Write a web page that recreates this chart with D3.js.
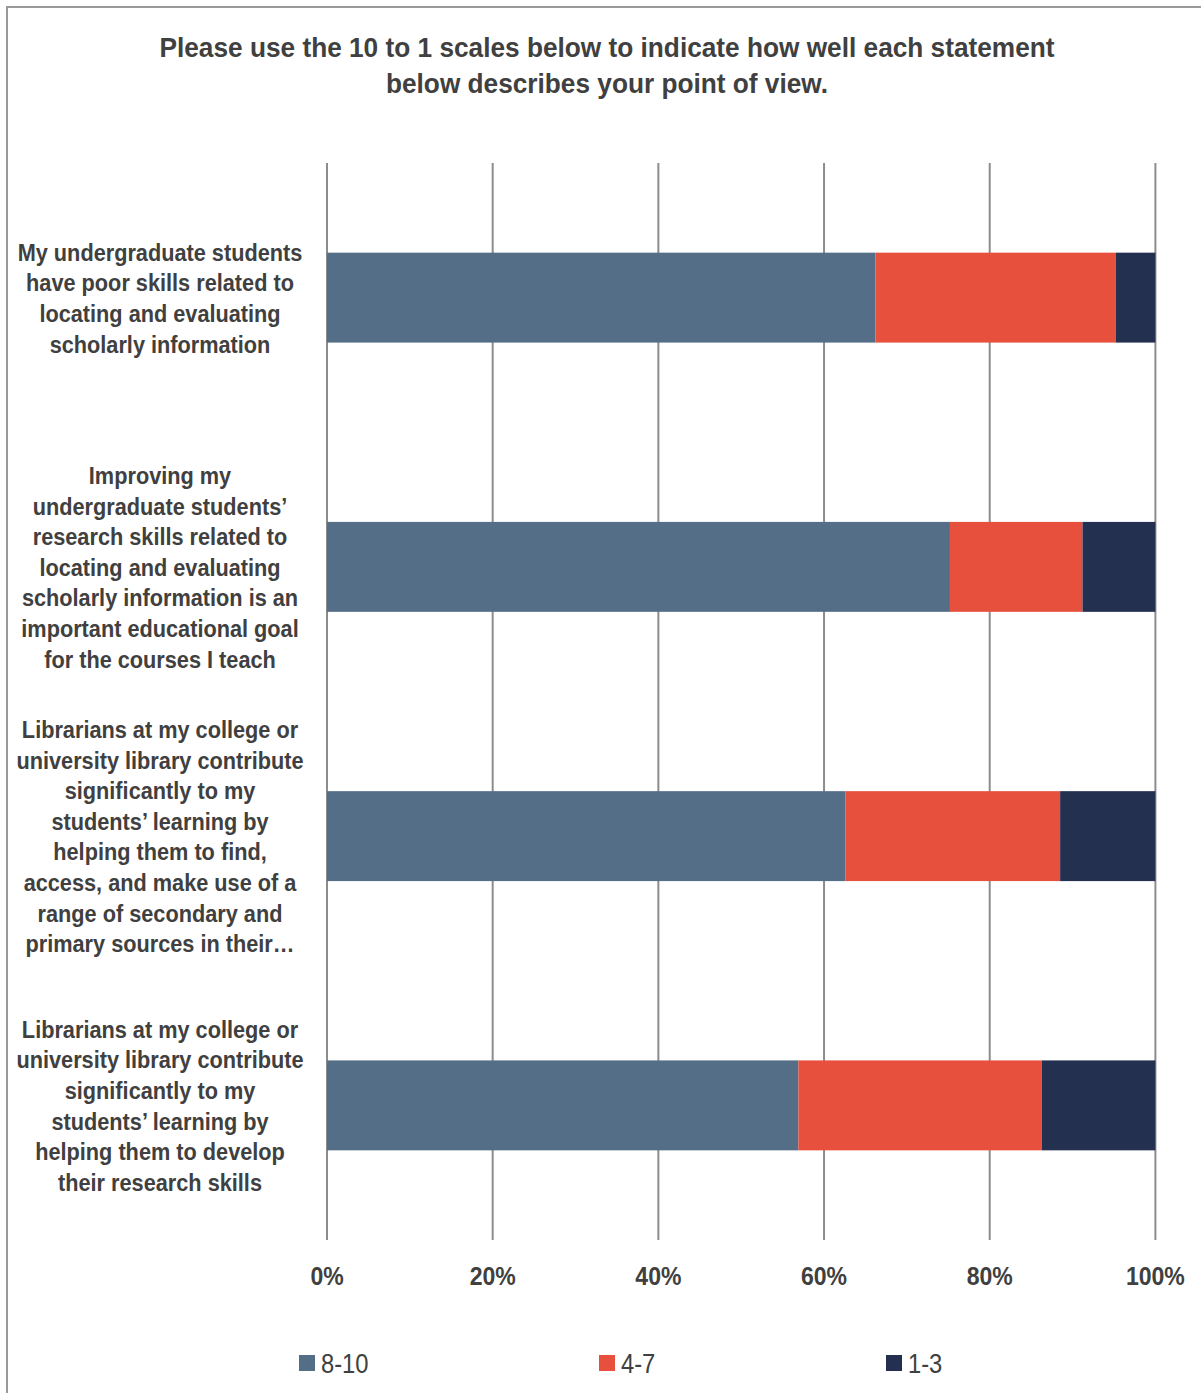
<!DOCTYPE html>
<html>
<head>
<meta charset="utf-8">
<script src="https://cdn.jsdelivr.net/npm/d3@7"></script>
<style>
  html, body { margin: 0; padding: 0; background: #fff; }
  svg { display: block; }
  text { font-family: "Liberation Sans", Arial, sans-serif; fill: #404040; }
</style>
</head>
<body>
<svg id="chart" width="1201" height="1393"></svg>
<script>
// Survey statements (each entry is one wrapped label, one line per string)
const categories = [
  ["My undergraduate students", "have poor skills related to", "locating and evaluating", "scholarly information"],
  ["Improving my", "undergraduate students\u2019", "research skills related to", "locating and evaluating", "scholarly information is an", "important educational goal", "for the courses I teach"],
  ["Librarians at my college or", "university library contribute", "significantly to my", "students\u2019 learning by", "helping them to find,", "access, and make use of a", "range of secondary and", "primary sources in their\u2026"],
  ["Librarians at my college or", "university library contribute", "significantly to my", "students\u2019 learning by", "helping them to develop", "their research skills"]
];

// Share of responses (%) per rating band
const seriesNames = ["8-10", "4-7", "1-3"];
const high = [66.2, 75.2, 62.6, 56.9];
const mid  = [29.0, 16.0, 25.9, 29.4];
const low  = [4.8, 8.8, 11.5, 13.7];

const tickValues = [0, 20, 40, 60, 80, 100];
const tickLabels = ["0%", "20%", "40%", "60%", "80%", "100%"];

const colors = ["#556e88", "#e8503e", "#233050"];

const title = ["Please use the 10 to 1 scales below to indicate how well each statement",
               "below describes your point of view."];

// narrow face: a regular sans squeezed horizontally around its anchor
function narrowText(sel, x, y, k) {
  return sel.attr("transform", `translate(${x},${y}) scale(${k},1)`);
}

const svg = d3.select("#chart");

// outer frame
svg.append("rect")
  .attr("x", 7).attr("y", 7)
  .attr("width", 1260).attr("height", 1460)
  .attr("fill", "none").attr("stroke", "#9a9a9a").attr("stroke-width", 2);

// title
title.forEach((line, i) => {
  svg.append("text")
    .call(narrowText, 607, 57 + i * 36, 0.937)
    .attr("text-anchor", "middle")
    .attr("font-weight", "bold")
    .attr("font-size", 28)
    .text(line);
});

const x = d3.scaleLinear().domain([0, 100]).range([327, 1155.4]);
const y = d3.scaleBand()
  .domain(d3.range(categories.length))
  .range([163, 1240])
  .paddingInner(0.666)
  .paddingOuter(0.333);

// vertical gridlines
svg.append("g").selectAll("line")
  .data(tickValues)
  .join("line")
  .attr("x1", d => x(d)).attr("x2", d => x(d))
  .attr("y1", 163).attr("y2", 1240)
  .attr("stroke", "#8c8c8c").attr("stroke-width", 2);

// stacked bars
const rows = categories.map((c, i) => ({ i, "8-10": high[i], "4-7": mid[i], "1-3": low[i] }));
const stack = d3.stack().keys(seriesNames)(rows);

svg.append("g").selectAll("g")
  .data(stack)
  .join("g")
  .attr("fill", (d, k) => colors[k])
  .selectAll("rect")
  .data(d => d)
  .join("rect")
  .attr("x", d => x(d[0]))
  .attr("width", d => x(d[1]) - x(d[0]))
  .attr("y", d => y(d.data.i))
  .attr("height", y.bandwidth());

// category labels
const lineH = 30.6;
categories.forEach((lines, i) => {
  const cy = y(i) + y.bandwidth() / 2;
  const y0 = cy - (lines.length - 1) * lineH / 2 + 9;
  lines.forEach((ln, j) => {
    svg.append("text")
      .call(narrowText, 160, y0 + j * lineH, 0.905)
      .attr("text-anchor", "middle")
      .attr("font-weight", "bold")
      .attr("font-size", 24)
      .text(ln);
  });
});

// x tick labels
svg.append("g").selectAll("text")
  .data(tickValues)
  .join("text")
  .each(function (d) { narrowText(d3.select(this), x(d), 1285, 0.885); })
  .attr("text-anchor", "middle")
  .attr("font-weight", "bold")
  .attr("font-size", 26)
  .text((d, i) => tickLabels[i]);

// legend
const legendX = [299, 599, 886];
const lg = svg.append("g").selectAll("g")
  .data(seriesNames)
  .join("g")
  .attr("transform", (d, i) => `translate(${legendX[i]},1355)`);
lg.append("rect").attr("width", 16).attr("height", 16).attr("fill", (d, i) => colors[i]);
lg.append("text")
  .attr("transform", "translate(22,18) scale(0.88,1)")
  .attr("font-size", 27)
  .text(d => d);
</script>
</body>
</html>
